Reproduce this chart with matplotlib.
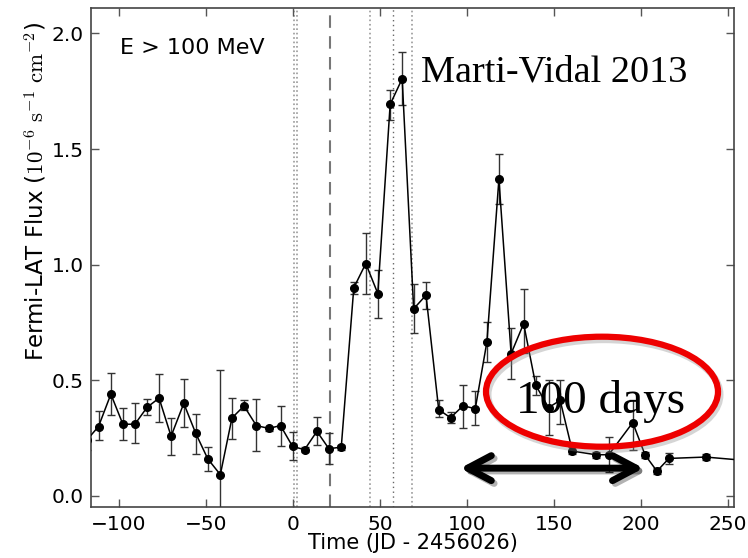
import numpy as np
import matplotlib
matplotlib.use('Agg')
import matplotlib.pyplot as plt
import matplotlib.patheffects as patheffects
from matplotlib.patches import Ellipse

plt.rcParams['mathtext.fontset'] = 'cm'
plt.rcParams['font.family'] = 'DejaVu Sans'

tiempo = [-118.6, -111.7, -104.6, -97.7, -90.8, -83.8, -76.9, -70.0, -62.7, -55.8,
          -48.9, -41.7, -35.0, -28.1, -21.0, -13.9, -7.1, -0.2, 6.7, 13.8,
          20.7, 27.8, 35.0, 41.9, 48.8, 55.9, 62.8, 69.4, 76.5, 83.8,
          90.6, 97.8, 104.8, 111.5, 118.4, 125.4, 132.6, 139.6, 146.9, 153.6,
          160.6, 174.0, 181.5, 195.3, 202.4, 209.2, 216.1, 237.2, 265.0]
flujo = [0.24, 0.30, 0.44, 0.31, 0.31, 0.383, 0.423, 0.258, 0.40, 0.27,
         0.16, 0.092, 0.337, 0.389, 0.304, 0.292, 0.304, 0.214, 0.20, 0.279,
         0.204, 0.211, 0.90, 1.005, 0.875, 1.693, 1.804, 0.809, 0.868, 0.373,
         0.338, 0.39, 0.377, 0.666, 1.37, 0.615, 0.745, 0.478, 0.382, 0.413,
         0.194, 0.178, 0.178, 0.317, 0.177, 0.107, 0.162, 0.168, 0.15]
flujo_min = [0.20, 0.24, 0.35, 0.24, 0.23, 0.35, 0.32, 0.177, 0.30, 0.183,
             0.107, -0.40, 0.248, 0.37, 0.194, 0.28, 0.214, 0.154, 0.19, 0.219,
             0.14, 0.20, 0.875, 0.872, 0.771, 1.626, 1.689, 0.705, 0.809, 0.341,
             0.315, 0.295, 0.305, 0.579, 1.262, 0.507, 0.62, 0.435, 0.262, 0.313,
             0.18, 0.165, 0.103, 0.197, 0.165, 0.095, 0.139, 0.155, 0.14]
flujo_max = [0.28, 0.365, 0.53, 0.38, 0.40, 0.42, 0.527, 0.337, 0.506, 0.354,
             0.21, 0.545, 0.423, 0.416, 0.418, 0.30, 0.389, 0.276, 0.21, 0.341,
             0.27, 0.22, 0.925, 1.135, 0.976, 1.755, 1.919, 0.916, 0.923, 0.413,
             0.363, 0.48, 0.452, 0.75, 1.478, 0.726, 0.893, 0.52, 0.50, 0.50,
             0.21, 0.19, 0.255, 0.413, 0.19, 0.12, 0.185, 0.18, 0.16]

# lineas verticales (epocas VLBI / eventos)
lineas_punteadas = [0.6, 2.5, 44.2, 68.5]
linea_fina = 57.6
linea_discontinua = 21.6

t = np.array(tiempo)
f = np.array(flujo)
yerr = [f - np.array(flujo_min), np.array(flujo_max) - f]

fig = plt.figure(figsize=(7.48, 5.58), dpi=100)
ax = fig.add_axes([0.1217, 0.0914, 0.8596, 0.8943])

for xv in lineas_punteadas:
    ax.axvline(xv, color='#999999', ls=':', lw=1.2, zorder=1)
ax.axvline(linea_fina, color='#666666', ls=(0, (1, 2.5)), lw=1.0, zorder=1)
ax.axvline(linea_discontinua, color='#777777', ls='--', lw=1.5, dashes=(6, 4), zorder=1)

ax.errorbar(t, f, yerr=yerr, fmt='o-', color='black', ecolor='#333333',
            markersize=5.5, lw=1.1, elinewidth=1.0, capsize=3, capthick=1.0, zorder=3)

ax.set_xlim(-116, 253.5)
ax.set_ylim(-0.048, 2.11)
ax.set_xticks([-100, -50, 0, 50, 100, 150, 200, 250])
ax.set_yticks([0.0, 0.5, 1.0, 1.5, 2.0])
ax.tick_params(direction='in', length=6, width=1, top=True, right=True,
               labelsize=14.5, color='#555555')
ax.tick_params(axis='x', pad=6)
ax.tick_params(axis='y', pad=5)
for sp in ax.spines.values():
    sp.set_color('#444444')
    sp.set_linewidth(1.2)

ax.set_xlabel('Time (JD - 2456026)', fontsize=15, labelpad=-1)
ax.set_ylabel(r'Fermi-LAT Flux ($10^{-6}\ \mathrm{s}^{-1}\ \mathrm{cm}^{-2}$)', fontsize=16.5)
ax.yaxis.set_label_coords(-0.066, 0.633)

ax.text(0.045, 0.908, 'E > 100 MeV', transform=ax.transAxes, fontsize=16, va='baseline')

# --- anotaciones superpuestas ---
fig.text(421 / 748, 1 - 82 / 558, 'Marti-Vidal 2013', family='Liberation Serif',
         fontsize=27.5, va='baseline', ha='left')

# sombra de la elipse: copia gris desplazada
centro = (602 / 748, 1 - 391.7 / 558)
ancho, alto = 232 / 748, 110 / 558
sombra = Ellipse((centro[0] + 2 / 748, centro[1] - 3 / 558), ancho, alto,
                 transform=fig.transFigure, fill=False, edgecolor='#888888',
                 alpha=0.35, lw=5, zorder=9)
fig.add_artist(sombra)
elipse = Ellipse(centro, ancho, alto, transform=fig.transFigure, fill=False,
                 edgecolor='#ee0000', lw=4.5, zorder=10)
fig.add_artist(elipse)

fig.text(601 / 748, 1 - 413 / 558, '100 days', family='Liberation Serif',
         fontsize=34, va='baseline', ha='center', zorder=11)

flecha = ax.annotate('', xy=(201.5, 0.12), xytext=(96.2, 0.12),
                     arrowprops=dict(arrowstyle='<->,head_length=0.85,head_width=0.45',
                                     lw=5, color='black', shrinkA=0, shrinkB=0,
                                     mutation_scale=20, capstyle='round', joinstyle='round'),
                     annotation_clip=False)
flecha.arrow_patch.set_path_effects([patheffects.SimpleLineShadow(offset=(2, -2), alpha=0.3),
                                     patheffects.Normal()])

fig.savefig('out.png', dpi=100)
